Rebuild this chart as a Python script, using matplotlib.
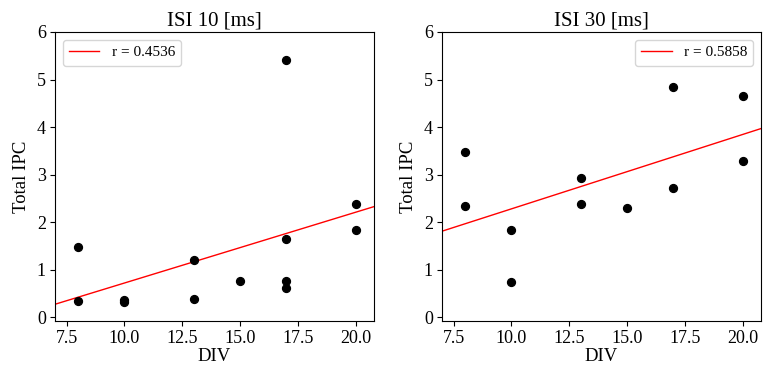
import numpy as np
import matplotlib
matplotlib.use("Agg")
import matplotlib.pyplot as plt

plt.rcParams['font.family'] = ['Liberation Serif', 'DejaVu Serif']

# ISI 10 data
div_10 = [8, 8, 10, 10, 13, 13, 15, 17, 17, 17, 17, 20, 20]
ipc_10 = [1.48, 0.35, 0.37, 0.33, 1.20, 0.39, 0.77, 5.41, 1.64, 0.77, 0.61, 2.38, 1.83]
label_10 = "r = 0.4536"

# ISI 30 data
div_30 = [8, 8, 10, 10, 13, 13, 15, 17, 17, 20, 20]
ipc_30 = [3.47, 2.33, 1.84, 0.75, 2.93, 2.38, 2.29, 4.84, 2.71, 4.66, 3.28]
label_30 = "r = 0.5858"

titles = ["ISI 10 [ms]", "ISI 30 [ms]"]
xticks = [7.5, 10.0, 12.5, 15.0, 17.5, 20.0]
yticks = [0, 1, 2, 3, 4, 5, 6]

W, H = 771, 367
fig = plt.figure(figsize=(W / 100, H / 100), dpi=100)
ax1 = fig.add_axes([55 / W, 1 - 321 / H, 319 / W, 289 / H])
ax2 = fig.add_axes([442 / W, 1 - 321 / H, 319 / W, 289 / H])

for ax, x, y, lab, title, loc in [
    (ax1, div_10, ipc_10, label_10, titles[0], 'upper left'),
    (ax2, div_30, ipc_30, label_30, titles[1], 'upper right'),
]:
    x = np.array(x, float)
    y = np.array(y, float)
    m, b = np.polyfit(x, y, 1)
    xl = np.array([7.0, 21.0])
    ax.plot(xl, m * xl + b, color='red', lw=1, label=lab, zorder=2)
    ax.scatter(x, y, color='black', s=32, zorder=3)
    ax.set_xlim(7.0, 20.8)
    ax.set_ylim(-0.08, 6.0)
    ax.set_xticks(xticks)
    ax.set_xticklabels([f"{t:.1f}" for t in xticks])
    ax.set_yticks(yticks)
    ax.tick_params(labelsize=13, pad=3)
    ax.set_title(title, fontsize=15, pad=5)
    ax.set_xlabel("DIV", fontsize=13.5, labelpad=1)
    ax.set_ylabel("Total IPC", fontsize=13.5, labelpad=5)
    ax.legend(loc=loc, fontsize=11, handlelength=2.0)

fig.savefig("out.png", dpi=100)
